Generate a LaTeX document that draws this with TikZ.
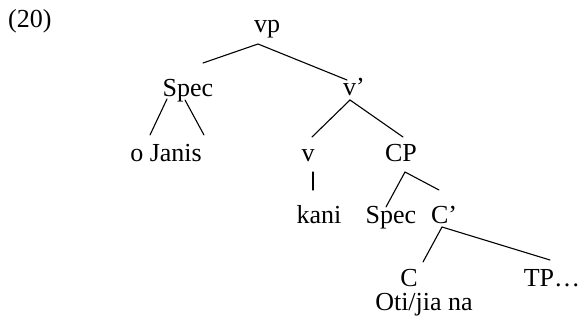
\documentclass[tikz,border=0pt]{standalone}
\usepackage{fontspec}
\setmainfont{Liberation Serif}
\begin{document}
\begin{tikzpicture}[x=1pt,y=1pt,
  lbl/.style={anchor=base,inner sep=0pt,font=\fontsize{26}{30}\selectfont},
  branch/.style={line width=1.1pt,line cap=round}]
\useasboundingbox (0,0) rectangle (584,321);
% example number
\node[lbl,anchor=base west] (num) at (8,293) {(20)};
% labels
\node[lbl] (vp)    at (267,288) {vp};
\node[lbl] (spec1) at (188,224) {Spec};
\node[lbl] (vbar)  at (354,225) {v’};
\node[lbl] (janis) at (166,159) {o Janis};
\node[lbl] (v)     at (308,159) {v};
\node[lbl] (cp)    at (401,159) {CP};
\node[lbl] (kani)  at (319,97)  {kani};
\node[lbl] (spec2) at (391,97)  {Spec};
\node[lbl] (cbar)  at (444,97)  {C’};
\node[lbl] (c)     at (409,34)  {C};
\node[lbl] (tp)    at (552,34)  {TP…};
\node[lbl] (oti)   at (424,10)  {Oti/jia na};
% branch points and branch ends
\coordinate (vpA) at (258,277);
\coordinate (vpL) at (203,258);
\coordinate (vpR) at (347,241);
\coordinate (s1a) at (167,222);
\coordinate (s1b) at (150,186);
\coordinate (s1c) at (185,221);
\coordinate (s1d) at (204,186);
\coordinate (vbA) at (350,221);
\coordinate (vbL) at (312,184);
\coordinate (vbR) at (403,184);
\coordinate (vT)  at (313,149);
\coordinate (vB)  at (313,131);
\coordinate (cpA) at (405,149);
\coordinate (cpL) at (386,114);
\coordinate (cpR) at (439,131);
\coordinate (cbA) at (442,94);
\coordinate (cbL) at (423,59);
\coordinate (cbR) at (550,61);
% branches
\draw[branch] (vpL) -- (vpA) -- (vpR);
\draw[branch] (s1a) -- (s1b);
\draw[branch] (s1c) -- (s1d);
\draw[branch] (vbL) -- (vbA) -- (vbR);
\draw[branch] (vT) -- (vB);
\draw[branch] (cpL) -- (cpA) -- (cpR);
\draw[branch] (cbL) -- (cbA) -- (cbR);
\end{tikzpicture}
\end{document}
